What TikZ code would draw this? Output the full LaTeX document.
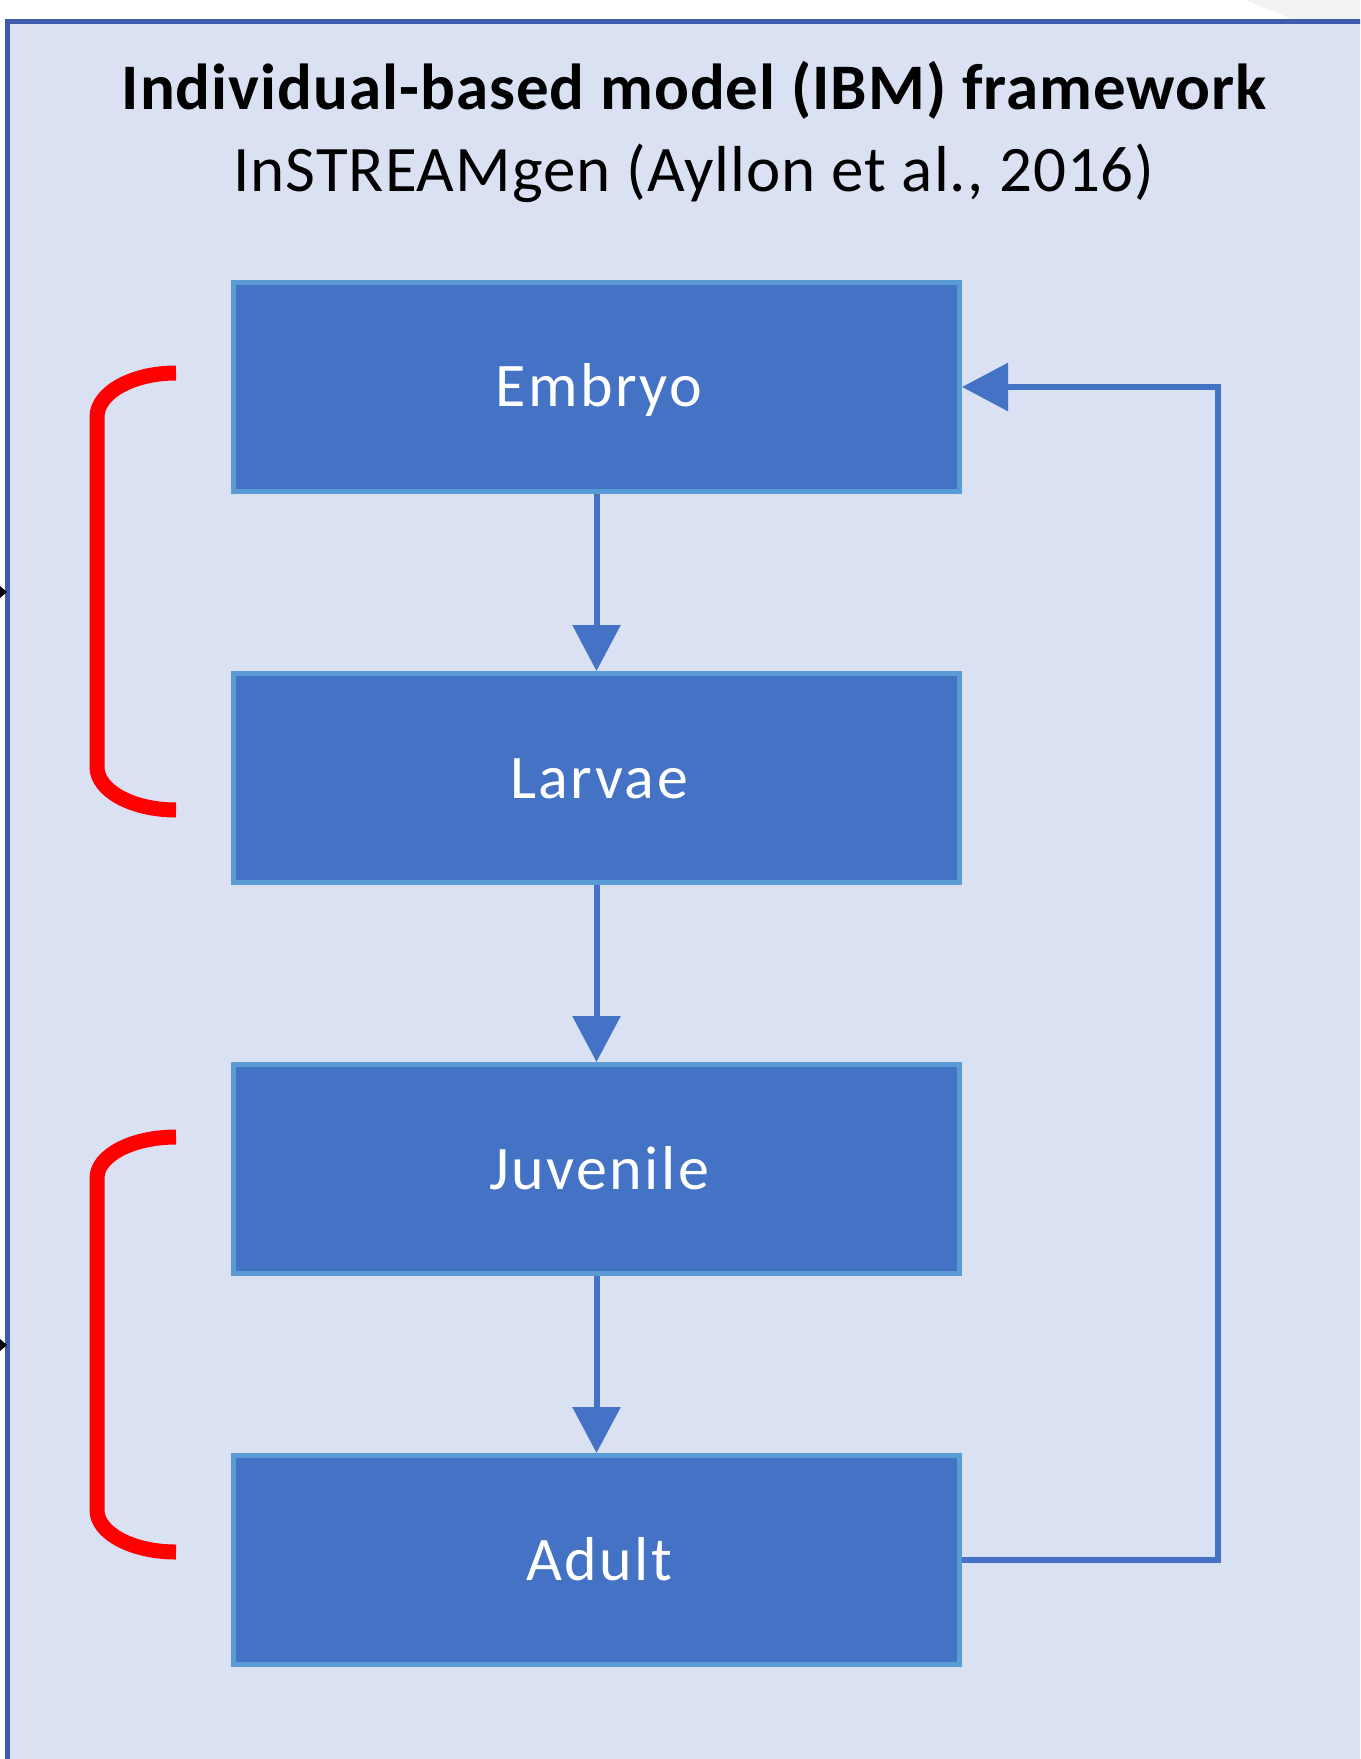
\documentclass[tikz,border=0pt]{standalone}
\usepackage{fontspec}
\setmainfont{Carlito}
\usepackage{tikz}
\usetikzlibrary{positioning,arrows.meta}
\usepackage{xcolor}
\definecolor{panelfill}{RGB}{218,225,243}
\definecolor{frameblue}{RGB}{63,90,170}
\definecolor{stagefill}{RGB}{68,114,196}
\definecolor{stageedge}{RGB}{91,155,213}
\definecolor{cornergray}{RGB}{242,243,243}

\begin{document}
\begin{tikzpicture}[x=0.5pt,y=-0.5pt,
    stage/.style={draw=stageedge, fill=stagefill, line width=2.5pt,
        minimum width=363pt, minimum height=104.5pt, text=white,
        text height=22pt, text depth=2pt,
        font=\fontsize{31}{37}\selectfont\addfontfeatures{LetterSpace=4}},
    heading/.style={anchor=base,
        font=\fontsize{32.5}{39}\selectfont\addfontfeatures{LetterSpace=1.5}},
    flow/.style={draw=stagefill, line width=3pt,
        -{Triangle[length=23pt,width=23.5pt]}},
    bracket/.style={draw=red, line width=7.5pt},
    node distance=88.5pt]
    \useasboundingbox (0,0) rectangle (1360,1759);
    \clip (0,0) rectangle (1360,1759);

    % panel
    \fill[cornergray] (1245,0) -- (1360,0) -- (1360,19) -- (1292,19) -- cycle;
    \draw[frameblue, fill=panelfill, line width=2.5pt] (7.5,21.5) rectangle (1420,1820);
    \fill (0,586) -- (7,592) -- (0,598) -- cycle;
    \fill (0,1339) -- (7,1345) -- (0,1351) -- cycle;

    \node[heading] (title) at (694,110)
        {\bfseries Individual-based model (IBM) framework};
    \node[heading] (source) at (694,192)
        {InSTREAMgen (Ayllon et al., 2016)};

    % life stages
    \node[stage] (embryo) at (596.5,387) {\hspace*{2.5pt}Embryo};
    \node[stage, below=of embryo] (larvae) {\hspace*{2.5pt}Larvae};
    \node[stage, below=of larvae] (juvenile) {\hspace*{2.5pt}Juvenile};
    \node[stage, below=of juvenile] (adult) {\hspace*{2.5pt}Adult};

    \draw[flow] (embryo) -- (larvae);
    \draw[flow] (larvae) -- (juvenile);
    \draw[flow] (juvenile) -- (adult);

    \coordinate (loop) at (1218,970);
    \draw[flow] (adult.east) -| (loop) |- (embryo.east);

    % brackets
    \draw[bracket] (176,373) arc[start angle=270, end angle=180, x radius=79, y radius=44]
        -- (97,767) arc[start angle=180, end angle=90, x radius=79, y radius=43];
    \draw[bracket] (176,1137) arc[start angle=270, end angle=180, x radius=79, y radius=41]
        -- (97,1510) arc[start angle=180, end angle=90, x radius=79, y radius=42];
\end{tikzpicture}
\end{document}
